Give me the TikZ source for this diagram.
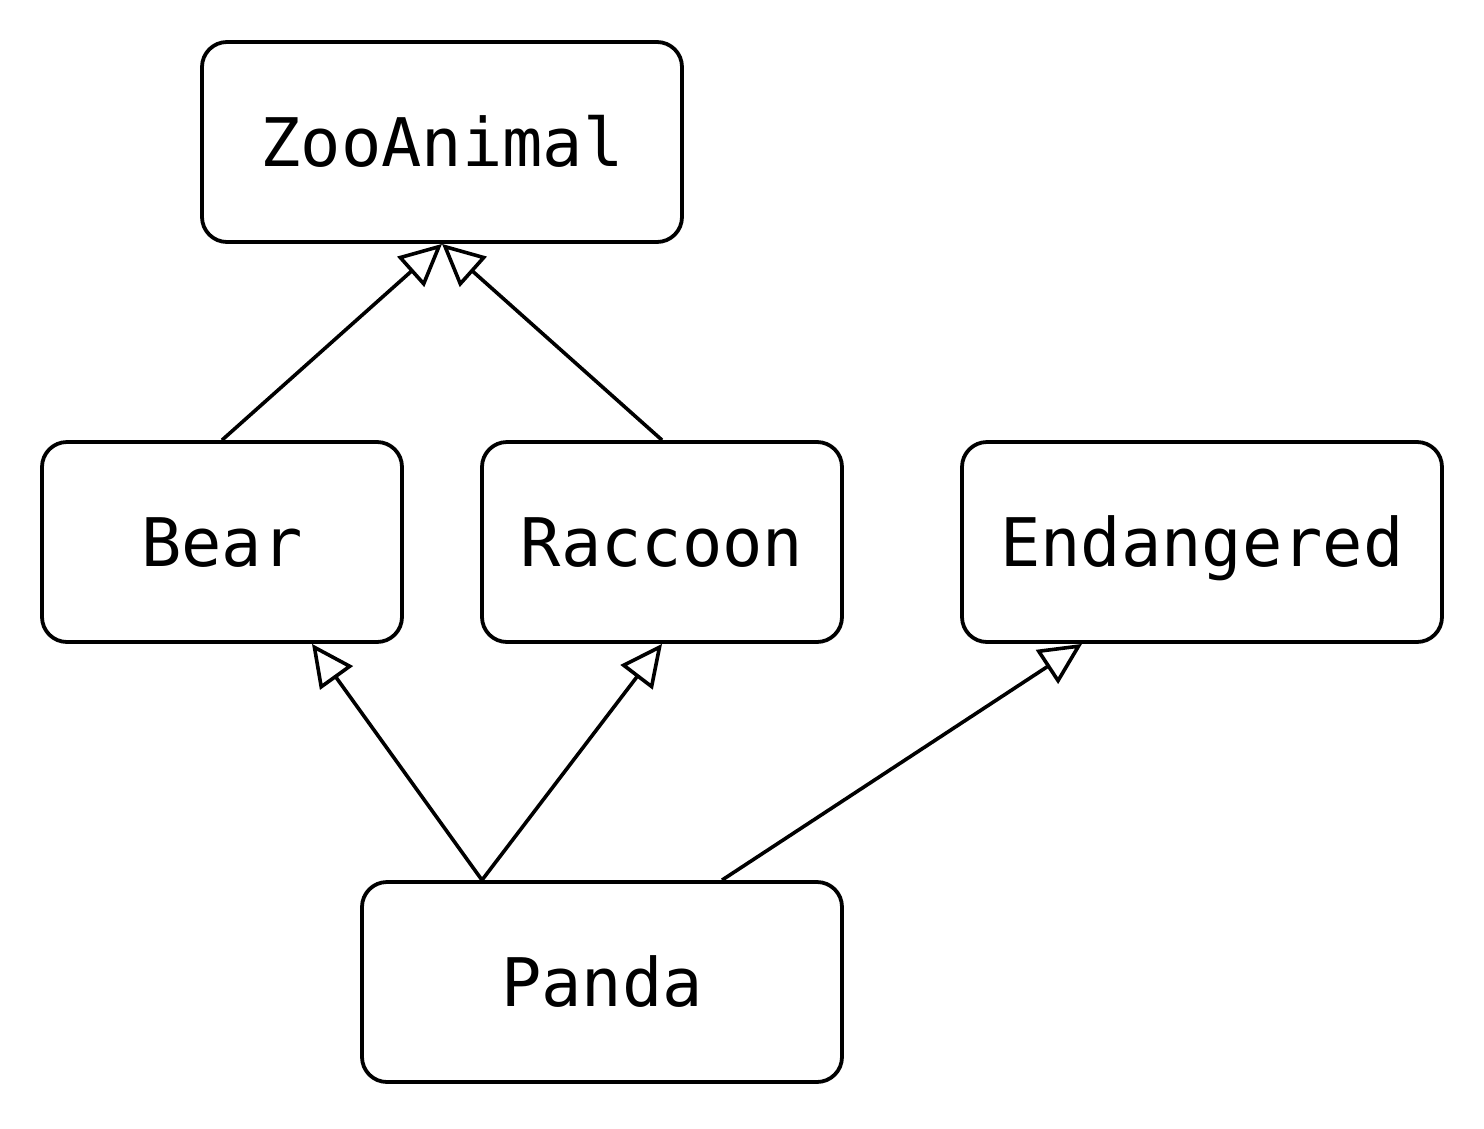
\documentclass[tikz,border=0pt]{standalone}
\usepackage{fontspec}
\setmonofont{DejaVu Sans Mono}
\usetikzlibrary{arrows.meta,calc}
\begin{document}
\begin{tikzpicture}[x=1pt,y=1pt,
  cls/.style={draw,line width=3.8pt,rounded corners=25pt,minimum height=200pt,inner sep=0pt,
    font=\fontsize{67}{70}\selectfont\ttfamily,text height=48pt,text depth=0pt},
  inh/.style={line width=3.6pt,-{Triangle[open,length=42pt,width=40pt,line width=3.6pt]}}]
\useasboundingbox (0,0) rectangle (1484,-1128);
\node[cls,minimum width=480pt] (zoo) at (442,-142) {ZooAnimal};
\node[cls,minimum width=360pt] (bear) at (222,-542) {Bear};
\node[cls,minimum width=360pt] (raccoon) at (662,-542) {Raccoon};
\node[cls,minimum width=480pt] (endangered) at (1202,-542) {Endangered};
\node[cls,minimum width=480pt] (panda) at (602,-982) {Panda};
\draw[inh] (bear.north) -- (zoo.south);
\draw[inh] (raccoon.north) -- (zoo.south);
\draw[inh] ($(panda.north)+(-120,0)$) -- ($(bear.south)+(90,0)$);
\draw[inh] ($(panda.north)+(-120,0)$) -- (raccoon.south);
\draw[inh] ($(panda.north)+(120,0)$) -- ($(endangered.south)+(-120,0)$);
\end{tikzpicture}
\end{document}
